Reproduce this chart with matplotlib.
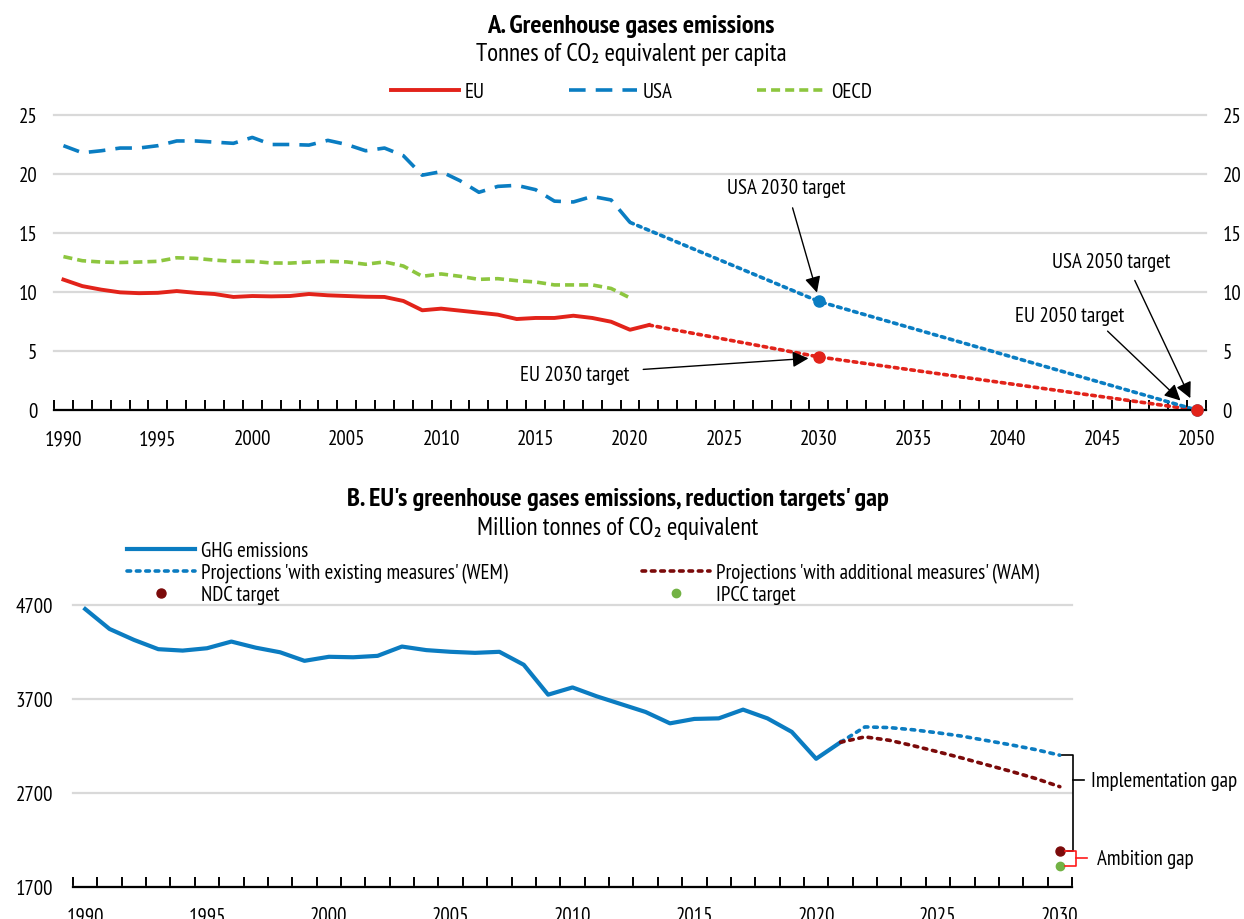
import numpy as np
import matplotlib.pyplot as plt
from matplotlib.lines import Line2D
from matplotlib import font_manager as fm
from collections import defaultdict

# a narrow sans face that also has a bold cut
weights = defaultdict(set)
for f in fm.fontManager.ttflist:
    if f.style == 'normal':
        w = f.weight if isinstance(f.weight, int) else fm.weight_dict.get(f.weight, 400)
        weights[f.name].add(w)
narrow = ['Liberation Sans Narrow', 'Arial Narrow', 'PT Sans Narrow', 'Archivo Narrow',
          'Roboto Condensed', 'Fira Sans Condensed', 'IBM Plex Sans Condensed',
          'Encode Sans Condensed', 'Pragati Narrow', 'Open Sans Condensed']
face = next((n for n in narrow if n in weights and max(weights[n]) >= 700),
            'Liberation Sans')
plt.rcParams['font.family'] = [face, 'DejaVu Sans']

#   Panel A: tonnes of CO2 equivalent per capita
years_a = np.arange(1990, 2022)
eu = [11.05, 10.5, 10.2, 9.97, 9.9, 9.93, 10.08, 9.93, 9.83, 9.58, 9.66, 9.63,
      9.66, 9.83, 9.72, 9.66, 9.6, 9.58, 9.24, 8.45, 8.59, 8.42, 8.25, 8.08,
      7.71, 7.8, 7.8, 7.99, 7.8, 7.48, 6.8, 7.2]
usa = [22.4, 21.8, 21.97, 22.2, 22.2, 22.4, 22.8, 22.8, 22.7, 22.6, 23.1, 22.5,
       22.5, 22.45, 22.85, 22.5, 21.97, 22.2, 21.55, 19.9, 20.2, 19.43, 18.45,
       18.95, 19.04, 18.67, 17.7, 17.63, 18.1, 17.8, 15.9]
oecd = [13.0, 12.65, 12.54, 12.5, 12.54, 12.6, 12.9, 12.85, 12.7, 12.6, 12.6,
        12.46, 12.45, 12.54, 12.6, 12.55, 12.35, 12.55, 12.2, 11.33, 11.53,
        11.33, 11.07, 11.13, 10.96, 10.85, 10.6, 10.6, 10.6, 10.3, 9.5]
target_years = [2030, 2050]
eu_targets = [4.5, 0.0]
usa_targets = [9.2, 0.0]

#   Panel B: EU emissions, million tonnes of CO2 equivalent
years_b = np.arange(1990, 2022)
ghg = [4657, 4445, 4329, 4230, 4215, 4240, 4311, 4246, 4197, 4106, 4149, 4144,
       4159, 4258, 4220, 4202, 4191, 4202, 4064, 3746, 3823, 3728, 3645, 3562,
       3441, 3488, 3494, 3587, 3494, 3350, 3064, 3240]
proj_years = np.arange(2021, 2031)
wem = [3240, 3403, 3396, 3372, 3340, 3304, 3258, 3212, 3162, 3102]
wam = [3240, 3297, 3261, 3202, 3138, 3071, 3000, 2930, 2855, 2767]
ndc_2030 = 2085
ipcc_2030 = 1925

title_a = 'A. Greenhouse gases emissions'
sub_a = 'Tonnes of CO₂ equivalent per capita'
title_b = "B. EU's greenhouse gases emissions, reduction targets' gap"
sub_b = 'Million tonnes of CO₂ equivalent'

c_eu = '#E2231A'
c_usa = '#0A7DC2'
c_oecd = '#8DC63F'
c_ghg = '#0B7CC1'
c_wam = '#7B0A0A'
c_ipcc = '#72B244'
c_grid = '#D9D9D9'

W, H = 1244, 920
fig = plt.figure(figsize=(W / 100, H / 100), dpi=100)
renderer = fig.canvas.get_renderer()


def size_for(text, px, lo, hi, **kw):
    # font size giving the text about px pixels of width
    t = fig.text(0, 0, text, fontsize=10, **kw)
    w = t.get_window_extent(renderer).width
    t.remove()
    return min(max(10 * px / w, lo), hi)


fs = size_for('Implementation gap', 150, 12.5, 15)
fs_title = size_for(title_a, 315, 13, 19, fontweight='bold')
fs_sub = size_for(sub_a, 332, 13, 18)
em = fs * 100 / 72     # font size in pixels, for legend spacing


def style_axes(ax, x0, x1, major_every5, pad_y):
    for s in ['top', 'left', 'right']:
        ax.spines[s].set_visible(False)
    ax.spines['bottom'].set_linewidth(1.6)
    ax.set_xlim(x0 - 0.5, x1 + 0.5)
    ax.set_xticks(np.arange(x0 - 0.5, x1 + 1, 1))
    ax.set_xticklabels([])
    ax.set_xticks(major_every5, minor=True)
    ax.set_xticklabels([str(y) for y in major_every5], minor=True)
    ax.tick_params(axis='x', which='major', direction='in', length=7, width=1.4)
    ax.tick_params(axis='x', which='minor', length=0, pad=14, labelsize=fs)
    ax.tick_params(axis='y', length=0, pad=pad_y, labelsize=fs)
    ax.yaxis.grid(True, color=c_grid, lw=1.6)
    ax.set_axisbelow(True)
    for gl in ax.get_ygridlines():
        gl.set_clip_on(False)


# ---------------- Panel A ----------------
axA = fig.add_axes([54 / W, 1 - 411 / H, (1206 - 54) / W, (411 - 116) / H])
style_axes(axA, 1990, 2050, np.arange(1990, 2051, 5), 12)
axA.set_ylim(0, 25)
axA.set_yticks(np.arange(0, 26, 5))
axA.tick_params(axis='y', labelright=True)

l_eu, = axA.plot(years_a, eu, color=c_eu, lw=2.8, label='EU')
l_usa, = axA.plot(years_a[:len(usa)], usa, color=c_usa, lw=2.6,
                  dashes=(4.6, 2.8), label='USA')
l_oecd, = axA.plot(years_a[:len(oecd)], oecd, color=c_oecd, lw=2.6,
                   dashes=(2.5, 1.4), label='OECD')

# paths towards the targets
axA.plot([years_a[-1]] + target_years, [eu[-1]] + eu_targets, color=c_eu,
         lw=2.6, dashes=(1, 1.3), dash_capstyle='round')
axA.plot([years_a[len(usa) - 1]] + target_years, [usa[-1]] + usa_targets,
         color=c_usa, lw=2.6, dashes=(1, 1.3), dash_capstyle='round')
axA.plot(target_years, usa_targets, 'o', color=c_usa, ms=8, clip_on=False, zorder=5)
axA.plot(target_years, eu_targets, 'o', color=c_eu, ms=8, clip_on=False, zorder=6)

arrow = dict(arrowstyle='-|>,head_length=0.6,head_width=0.3', color='black',
             lw=1.0, mutation_scale=16)
axA.annotate('USA 2030 target', xy=(2029.9, 9.95), xytext=(2028.3, 18.85),
             ha='center', va='center', fontsize=fs,
             arrowprops=dict(arrow, shrinkA=6, shrinkB=0))
axA.annotate('EU 2030 target', xy=(2029.45, 4.38), xytext=(2017.07, 3.05),
             ha='center', va='center', fontsize=fs,
             arrowprops=dict(arrow, shrinkA=8, shrinkB=0))
axA.annotate('USA 2050 target', xy=(2049.67, 1.0), xytext=(2045.5, 12.55),
             ha='center', va='center', fontsize=fs,
             arrowprops=dict(arrow, shrinkA=5, shrinkB=0, relpos=(0.66, 0)))
axA.annotate('EU 2050 target', xy=(2049.15, 0.8), xytext=(2043.3, 8.05),
             ha='center', va='center', fontsize=fs,
             arrowprops=dict(arrow, shrinkA=4, shrinkB=0, relpos=(0.78, 0)))

fig.text(631 / W, 1 - 27 / H, title_a, ha='center', va='center',
         fontsize=fs_title, fontweight='bold')
fig.text(631 / W, 1 - 55 / H, sub_a, ha='center', va='center', fontsize=fs_sub)
fig.legend(handles=[l_eu, l_usa, l_oecd], loc='center left',
           bbox_to_anchor=(391 / W, 1 - 93 / H), ncol=3, frameon=False,
           fontsize=fs, handlelength=68 / em, handletextpad=6 / em,
           columnspacing=84 / em, borderpad=0, borderaxespad=0)

# ---------------- Panel B ----------------
axB = fig.add_axes([73 / W, 1 - 888 / H, (1072 - 73) / W, (888 - 606) / H])
style_axes(axB, 1990, 2030, np.arange(1990, 2031, 5), 14)
axB.set_ylim(1700, 4700)
axB.set_yticks(np.arange(1700, 4701, 1000))

l_ghg, = axB.plot(years_b, ghg, color=c_ghg, lw=3.0, label='GHG emissions')
l_wem, = axB.plot(proj_years, wem, color=c_ghg, lw=2.6, dashes=(1, 1.6),
                  dash_capstyle='round',
                  label="Projections 'with existing measures' (WEM)")
l_wam, = axB.plot(proj_years, wam, color=c_wam, lw=2.6, dashes=(1, 1.6),
                  dash_capstyle='round',
                  label="Projections 'with additional measures' (WAM)")
l_ndc, = axB.plot([2030], [ndc_2030], 'o', color=c_wam, ms=6.5, clip_on=False,
                  label='NDC target')
l_ipcc, = axB.plot([2030], [ipcc_2030], 'o', color=c_ipcc, ms=6, clip_on=False,
                   label='IPCC target')

# implementation gap brace
xv, nib_impl = 2030.53, 2834
axB.plot([2030.1, xv, xv, 2030.3], [wem[-1], wem[-1], ndc_2030, ndc_2030],
         color='black', lw=1.2, clip_on=False)
axB.plot([xv, 2031.0], [nib_impl, nib_impl], color='black', lw=1.2, clip_on=False)
axB.text(2031.27, nib_impl, 'Implementation gap', fontsize=fs, va='center')

# ambition gap brace
mid_amb = (ndc_2030 + ipcc_2030) / 2
xr = 2030.66
axB.plot([2030.22, xr, xr, 2030.22], [ndc_2030, ndc_2030, ipcc_2030, ipcc_2030],
         color='#FF1A1A', lw=1.2, clip_on=False)
axB.plot([xr, 2031.1], [mid_amb, mid_amb], color='#FF1A1A', lw=1.2, clip_on=False)
axB.text(2031.52, mid_amb, 'Ambition gap', fontsize=fs, va='center')

fig.text(618 / W, 1 - 500 / H, title_b, ha='center', va='center',
         fontsize=fs_title, fontweight='bold')
fig.text(618 / W, 1 - 528 / H, sub_b, ha='center', va='center', fontsize=fs_sub)

leg_kw = dict(frameon=False, fontsize=fs, handlelength=68 / em,
              handletextpad=6 / em, labelspacing=0.13, borderpad=0,
              borderaxespad=0)
blank = Line2D([], [], linestyle='none', label=' ')
fig.legend(handles=[l_ghg, l_wem, l_ndc], loc='upper left',
           bbox_to_anchor=(127 / W, 1 - 542 / H), **leg_kw)
fig.legend(handles=[blank, l_wam, l_ipcc], loc='upper left',
           bbox_to_anchor=(642 / W, 1 - 542 / H), **leg_kw)

fig.savefig('out.png', dpi=100)
